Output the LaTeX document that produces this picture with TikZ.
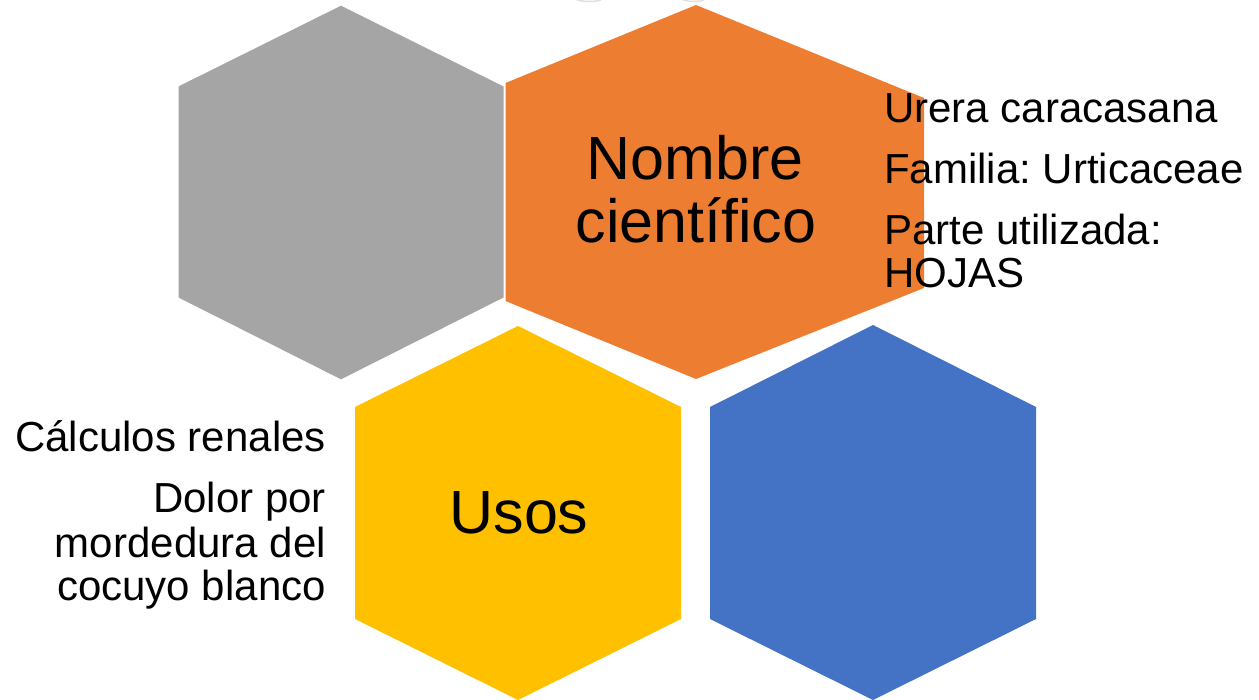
\documentclass[tikz,border=0pt]{standalone}
\usepackage{fontspec}
\setmainfont{Liberation Sans}
\frenchspacing
\definecolor{hgray}{HTML}{A5A5A5}
\definecolor{horange}{HTML}{ED7D31}
\definecolor{hyellow}{HTML}{FFC000}
\definecolor{hblue}{HTML}{4472C4}
\begin{document}
\begin{tikzpicture}[x=1pt,y=-1pt,
  hexshape/.style={draw=white, line width=1pt, line join=miter},
  bigtxt/.style={inner sep=0pt, font=\fontsize{61}{63}\selectfont},
  smalltxt/.style={inner sep=0pt, font=\fontsize{42}{43}\selectfont},
  faint/.style={draw=black!12, line width=1.5pt}]
\useasboundingbox (0,0) rectangle (1259,700);
% faint marks at top edge
\draw[faint] (577,0) .. controls (585,2) and (595,2) .. (601,0);
\draw[faint] (683,0) .. controls (690,2) and (698,2) .. (704,0);
% hexagons
\fill[horange] (505.5,83) -- (696,5) -- (924,98) -- (924,288) -- (696,379) -- (505.5,301) -- cycle;
\filldraw[hexshape, fill=hgray] (178,86) -- (341,5) -- (504,86) -- (504,298) -- (341,380) -- (178,298) -- cycle;
\fill[hyellow] (355,407) -- (518,326) -- (681,407) -- (681,619) -- (518,700) -- (355,619) -- cycle;
\fill[hblue] (710,407) -- (873,325) -- (1036,407) -- (1036,619) -- (873,700) -- (710,619) -- cycle;
% hexagon labels
\node[bigtxt, anchor=base] (nom1) at (695,180) {Nombre};
\node[bigtxt, anchor=base] (nom2) at (696,243) {científico};
\node[bigtxt, anchor=base] (usos) at (519,533) {Usos};
% right text
\node[smalltxt, anchor=base west] (r1) at (884,123) {Urera caracasana};
\node[smalltxt, anchor=base west] (r2) at (884,184) {Familia: Urticaceae};
\node[smalltxt, anchor=base west] (r3) at (884,245) {Parte utilizada:};
\node[smalltxt, anchor=base west] (r4) at (884,288) {HOJAS};
% left text
\node[smalltxt, anchor=base east] (l1) at (326,452) {Cálculos renales};
\node[smalltxt, anchor=base east] (l2) at (326,512) {Dolor por};
\node[smalltxt, anchor=base east] (l3) at (326,557) {mordedura del};
\node[smalltxt, anchor=base east] (l4) at (326,600) {cocuyo blanco};
\end{tikzpicture}
\end{document}
